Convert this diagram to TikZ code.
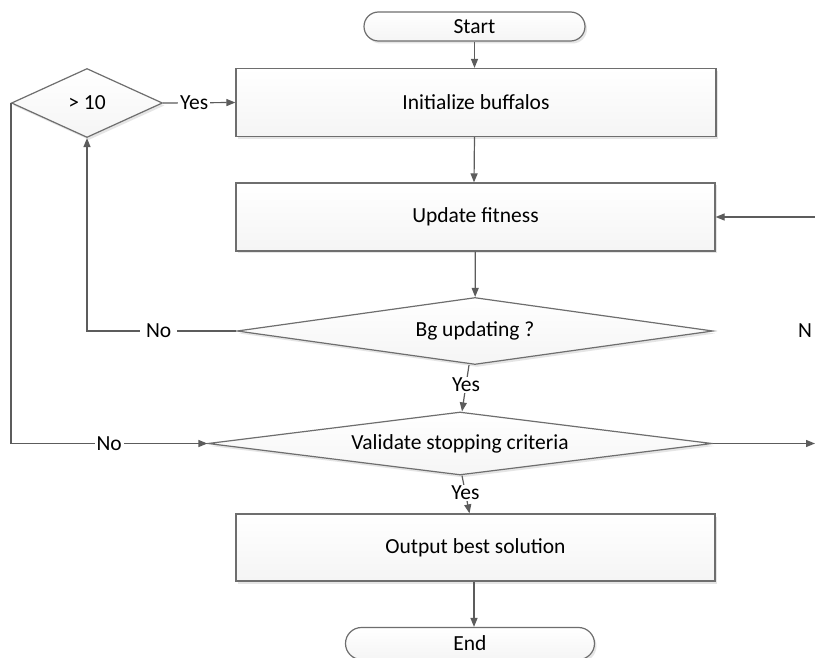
\documentclass[tikz,border=0pt]{standalone}
\usepackage{fontspec}
\setmainfont{Carlito}
\usetikzlibrary{shapes.geometric,shapes.misc,arrows.meta,shadows}
\definecolor{edgegray}{HTML}{6E6E6E}
\definecolor{arrgray}{HTML}{5C5C5C}
\begin{document}
\begin{tikzpicture}[x=1pt,y=-1pt,
  every node/.style={font=\fontsize{21.5}{25}\selectfont, text=black},
  shapebase/.style={draw=edgegray, line width=1.2pt, top color=white, bottom color=black!4,
    drop shadow={shadow xshift=2pt, shadow yshift=-2.5pt, fill=black!10, opacity=1}},
  procbox/.style={shapebase, rectangle, minimum height=68pt, inner sep=0pt},
  termbox/.style={shapebase, rounded rectangle, inner sep=0pt},
  decbox/.style={shapebase, diamond, inner sep=0pt},
  arr/.style={draw=arrgray, line width=1.2pt, -{Triangle[length=9pt,width=7pt]}},
  lbl/.style={fill=white, inner sep=1pt}
]
\clip (0,0) rectangle (815,658);
\fill[white] (0,0) rectangle (815,658);

\node[termbox, minimum width=221pt, minimum height=29pt] (start) at (474.5,26.5) {Start};
\node[procbox, minimum width=480pt] (init) at (476,102.5) {Initialize buffalos};
\node[procbox, minimum width=479pt] (upd) at (475.5,217) {Update fitness};
\node[decbox, minimum width=476pt, minimum height=67pt, aspect=7] (bg) at (475,331) {Bg updating ?};
\node[decbox, minimum width=504pt, minimum height=63pt, aspect=8] (val) at (460,443.5) {Validate stopping criteria};
\node[procbox, minimum width=479pt, minimum height=67pt] (out) at (475.5,547.5) {Output best solution};
\node[termbox, minimum width=249pt, minimum height=32pt] (end) at (470,643.5) {End};
\node[decbox, minimum width=151pt, minimum height=69pt, aspect=2.2] (gt) at (87,103) {> 10};

\coordinate (rin) at (830,217);
\coordinate (rout) at (815,443.5);

\draw[arr] (start.south) -- (start.south |- init.north);
\draw[arr] ([xshift=-1.5pt]init.south) -- ([xshift=-1.5pt]upd.north);
\draw[arr] (upd) -- (bg);
\draw[arr] ([xshift=-6pt]bg.south) -- node[lbl, pos=0.42] {Yes} ([xshift=2pt]val.north);
\draw[arr] ([xshift=2pt]val.south) -- node[lbl, pos=0.45] {Yes} ([xshift=-6pt]out.north);
\draw[arr] ([xshift=-1.5pt]out.south) -- ([xshift=-1.5pt]out.south |- end.north);
\draw[arr] (gt.east) -- node[lbl, pos=0.43, inner xsep=2pt] {Yes} (init.west);
\draw[arr] (bg.west) -| node[lbl, pos=0.26, inner xsep=6pt] {No} (gt.south);
\draw[arr] (gt.west) |- node[lbl, pos=0.75, inner xsep=2pt] {No} (val.west);
\draw[arr] (val.east) -- (rout);
\draw[arr] (rin) -- (upd.east);
\node[anchor=west, inner sep=0pt] (nright) at (798,331) {N};
\end{tikzpicture}
\end{document}
